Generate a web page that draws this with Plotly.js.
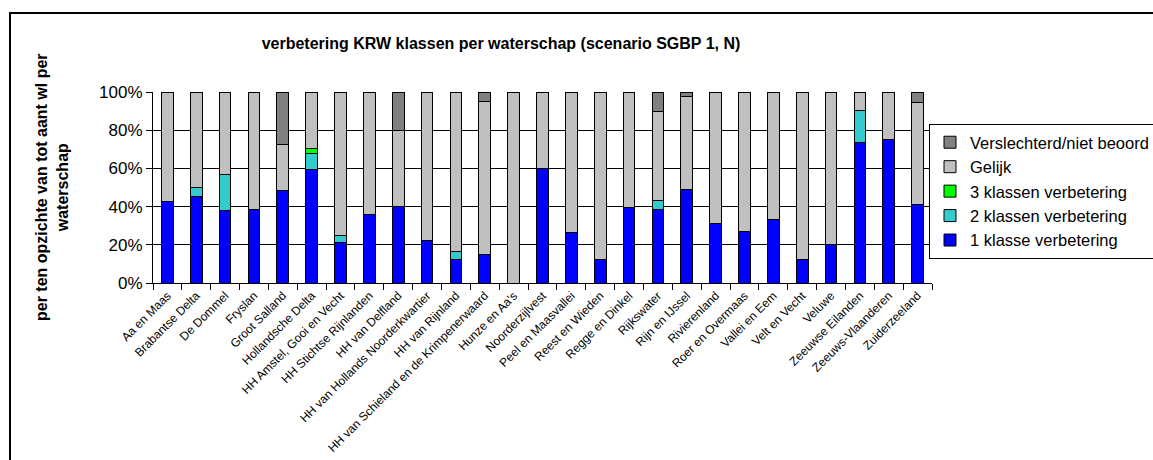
<!DOCTYPE html>
<html>
<head>
<meta charset="utf-8">
<script src="https://cdn.plot.ly/plotly-3.0.1.min.js"></script>
<style>
  html, body { margin: 0; padding: 0; background: #fff; }
  #chart { width: 1153px; height: 460px; }
</style>
</head>
<body>
<div id="chart"></div>
<script>
const categories = ["Aa en Maas", "Brabantse Delta", "De Dommel", "Fryslan", "Groot Salland", "Hollandsche Delta", "HH Amstel, Gooi en Vecht", "HH Stichtse Rijnlanden", "HH van Delfland", "HH van Hollands Noorderkwartier", "HH van Rijnland", "HH van Schieland en de Krimpenerwaard", "Hunze en Aa's", "Noorderzijlvest", "Peel en Maasvallei", "Reest en Wieden", "Regge en Dinkel", "Rijkswater", "Rijn en IJssel", "Rivierenland", "Roer en Overmaas", "Vallei en Eem", "Velt en Vecht", "Veluwe", "Zeeuwse Eilanden", "Zeeuws-Vlaanderen", "Zuiderzeeland"];

const klasse1 = [42.6, 45.5, 38.2, 38.6, 48.2, 59.5, 21.3, 35.8, 39.8, 22.4, 12.2, 15.1, 0, 60.0, 26.6, 12.2, 39.3, 38.4, 48.7, 30.9, 26.9, 33.4, 12.2, 20.0, 73.4, 75.2, 40.9];
const klassen2 = [0, 4.6, 18.7, 0, 0, 8.4, 3.7, 0, 0, 0, 4.3, 0, 0, 0, 0, 0, 0, 4.9, 0, 0, 0, 0, 0, 0, 16.7, 0, 0];
const klassen3 = [0, 0, 0, 0, 0, 2.3, 0, 0, 0, 0, 0, 0, 0, 0, 0, 0, 0, 0, 0, 0, 0, 0, 0, 0, 0, 0, 0];
const gelijk = [57.4, 49.9, 43.1, 61.4, 24.4, 29.8, 75.0, 64.2, 40.2, 77.6, 83.5, 79.9, 100, 40.0, 73.4, 87.8, 60.7, 46.3, 48.7, 69.1, 73.1, 66.6, 87.8, 80.0, 9.9, 24.8, 53.4];
const verslechterd = [0, 0, 0, 0, 27.4, 0, 0, 0, 20.0, 0, 0, 5.0, 0, 0, 0, 0, 0, 10.4, 2.6, 0, 0, 0, 0, 0, 0, 0, 5.7];

const seriesNames = ["1 klasse verbetering", "2 klassen verbetering", "3 klassen verbetering", "Gelijk", "Verslechterd/niet beoord"];
const seriesColors = ["#0000FF", "#33CCCC", "#00FF00", "#C0C0C0", "#808080"];
const seriesValues = [klasse1, klassen2, klassen3, gelijk, verslechterd];

const FONT = "Liberation Sans, Arial, sans-serif";

const traces = seriesValues.map((vals, i) => ({
  type: "bar",
  x: categories,
  y: vals,
  name: seriesNames[i],
  marker: { color: seriesColors[i], line: { color: "#000", width: 1 } },
  hoverinfo: "x+y+name"
}));

// pixel helpers for plot area: x 153..932, y 92..283
const L = 153, R = 932, T = 92, B = 283;
const px = v => (v - L) / (R - L);
const py = v => (B - v) / (B - T);

const layout = {
  width: 1153,
  height: 460,
  margin: { l: L, r: 1153 - R, t: T, b: 460 - B, pad: 0, autoexpand: false },
  paper_bgcolor: "#fff",
  plot_bgcolor: "#fff",
  barmode: "stack",
  bargap: 0.595,
  font: { family: FONT, color: "#000" },
  title: {
    text: "<b>verbetering KRW klassen per waterschap (scenario SGBP 1, N)</b>",
    font: { family: FONT, size: 16, color: "#000" },
    xref: "paper", x: px(501), xanchor: "center",
    yref: "container", y: 1 - 43 / 460, yanchor: "middle"
  },
  xaxis: {
    type: "category",
    tickangle: -45,
    tickfont: { family: FONT, size: 12, color: "#000" },
    showline: true, linecolor: "#000", linewidth: 1,
    ticks: "outside", ticklen: 6, tickcolor: "#000", tickson: "boundaries",
    showgrid: false, zeroline: false, fixedrange: true, automargin: false
  },
  yaxis: {
    range: [0, 100],
    dtick: 20,
    ticksuffix: "%",
    tickfont: { family: FONT, size: 17, color: "#000" },
    showline: true, linecolor: "#000", linewidth: 1,
    ticks: "outside", ticklen: 6, tickcolor: "#000",
    showgrid: true, gridcolor: "#000", gridwidth: 1,
    zeroline: false, fixedrange: true, automargin: false
  },
  legend: {
    traceorder: "reversed",
    x: px(929), xanchor: "left",
    y: py(124), yanchor: "top",
    bordercolor: "#000", borderwidth: 1, bgcolor: "#fff",
    font: { family: FONT, size: 16.5, color: "#000" },
    itemclick: false, itemdoubleclick: false
  },
  annotations: [{
    text: "<b>per ten opzichte van tot aant wl per<br>waterschap</b>",
    xref: "paper", yref: "paper",
    x: px(52), y: py(187), xanchor: "center", yanchor: "middle",
    textangle: -90, showarrow: false,
    font: { family: FONT, size: 16, color: "#000" }
  }],
  shapes: [{
    type: "rect", xref: "paper", yref: "paper",
    x0: px(10), x1: px(1165), y0: py(470), y1: py(13),
    line: { color: "#000", width: 2 }, fillcolor: "rgba(0,0,0,0)", layer: "below"
  }],
  showlegend: true
};

Plotly.newPlot("chart", traces, layout, { displayModeBar: false, staticPlot: true });
</script>
</body>
</html>
